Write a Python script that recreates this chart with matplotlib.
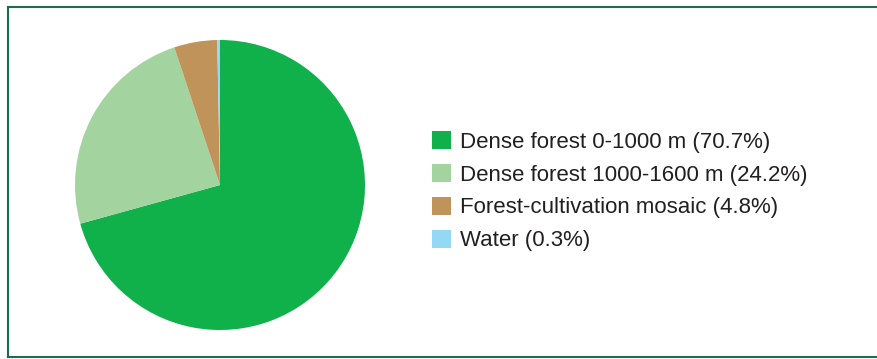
import matplotlib
matplotlib.use("Agg")
import matplotlib.pyplot as plt
from matplotlib.lines import Line2D

labels = ["Dense forest 0-1000 m", "Dense forest 1000-1600 m",
          "Forest-cultivation mosaic", "Water"]
shares = [70.7, 24.2, 4.8, 0.3]
colors = ["#10b04a", "#a3d39f", "#bf935a", "#93d8f5"]

W, H = 877, 359
fig = plt.figure(figsize=(W / 100, H / 100), dpi=100)
plt.rcParams["font.family"] = ["Liberation Sans", "DejaVu Sans"]

# pie centred at (220, 185) px, radius ~145 px
cx, cy, r = 220, 185, 145
ax = fig.add_axes([(cx - r) / W, (H - cy - r) / H, 2 * r / W, 2 * r / H])
wedges, _ = ax.pie(shares, colors=colors, startangle=90, counterclock=False,
                   radius=1, wedgeprops=dict(linewidth=0))
ax.set_xlim(-1, 1)
ax.set_ylim(-1, 1)
ax.set_aspect("equal")
ax.axis("off")

leg_labels = [f"{l} ({v}%)" for l, v in zip(labels, shares)]
fig.legend(wedges, leg_labels, loc="upper left",
           bbox_to_anchor=(421 / W, 1 - 120 / H), frameon=False,
           fontsize=16, handlelength=0.85, handleheight=0.85,
           handletextpad=0.4, labelspacing=0.51, borderpad=0,
           labelcolor="#231f20")

# frame (left, top, bottom)
fc = "#1d6b52"
for xs, ys in [([7.5, 7.5], [6.5, 357]), ([7.5, W], [6.5, 6.5]),
               ([7.5, W], [357, 357])]:
    fig.add_artist(Line2D([x / W for x in xs], [1 - y / H for y in ys],
                          transform=fig.transFigure, color=fc, lw=1.5))

fig.savefig("out.png", dpi=100)
